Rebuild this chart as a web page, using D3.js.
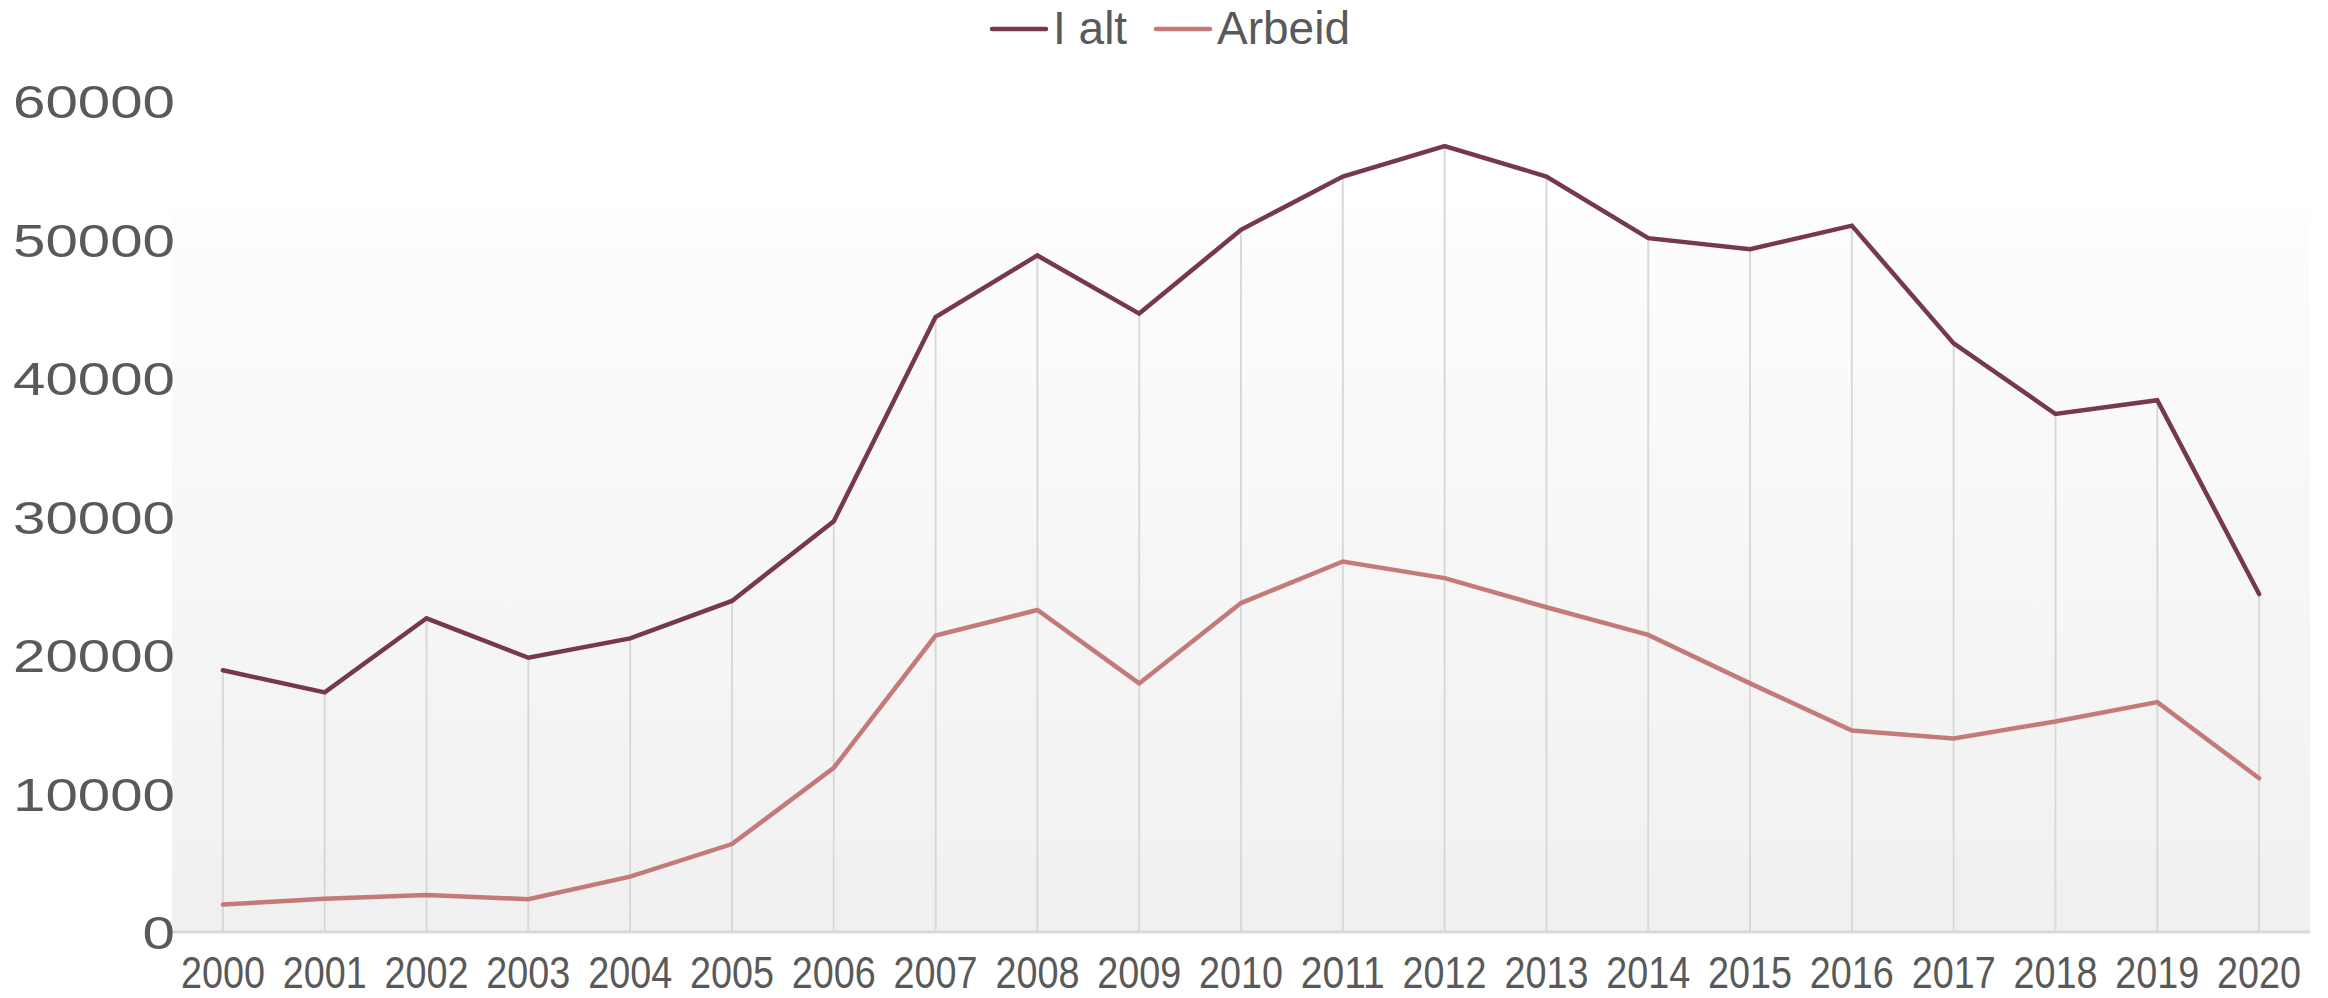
<!DOCTYPE html>
<html>
<head>
<meta charset="utf-8">
<script src="https://cdn.jsdelivr.net/npm/d3@7"></script>
<style>
  html, body { margin: 0; padding: 0; background: #ffffff; }
  svg { display: block; }
</style>
</head>
<body>
<svg id="chart" width="2328" height="998"></svg>
<script>
// ---- Data ----
const years = ["2000","2001","2002","2003","2004","2005","2006","2007","2008","2009","2010",
               "2011","2012","2013","2014","2015","2016","2017","2018","2019","2020"];
const iAlt = [18900, 17300, 22650, 19800, 21200, 23900, 29650, 44400, 48850, 44650, 50700,
              54550, 56750, 54550, 50100, 49300, 51000, 42500, 37400, 38400, 24400];
const arbeid = [1980, 2400, 2680, 2370, 4000, 6350, 11850, 21400, 23250, 17950, 23750,
                26750, 25550, 23450, 21450, 17950, 14550, 13980, 15200, 16600, 11100];
const yTicks = [0, 10000, 20000, 30000, 40000, 50000, 60000];
const seriesNames = ["I alt", "Arbeid"];
const seriesColors = ["#76394b", "#c47a79"];

// ---- Layout ----
const svg = d3.select("#chart");
const plotLeft = 172, plotRight = 2310, plotBottom = 932, plotTopVal = 101;

const x = d3.scaleBand().domain(years).range([plotLeft, plotRight]).padding(0);
const cx = d => x(d) + x.bandwidth() / 2;
const y = d3.scaleLinear().domain([0, 60000]).range([plotBottom, plotTopVal]);

// background gradient
const defs = svg.append("defs");
const grad = defs.append("linearGradient").attr("id", "bg")
  .attr("x1", 0).attr("y1", 0).attr("x2", 0).attr("y2", 1);
grad.append("stop").attr("offset", "0%").attr("stop-color", "#fdfdfd");
grad.append("stop").attr("offset", "100%").attr("stop-color", "#f0f0f0");

svg.append("rect")
  .attr("x", plotLeft).attr("y", 210)
  .attr("width", plotRight - plotLeft).attr("height", plotBottom - 210)
  .attr("fill", "url(#bg)");

// drop lines
svg.append("g").selectAll("line").data(years).join("line")
  .attr("x1", d => cx(d)).attr("x2", d => cx(d))
  .attr("y1", y(0))
  .attr("y2", (d, i) => y(Math.max(iAlt[i], arbeid[i])))
  .attr("stroke", "#d9d9d9").attr("stroke-width", 2);

// baseline
svg.append("line")
  .attr("x1", plotLeft).attr("x2", plotRight)
  .attr("y1", y(0)).attr("y2", y(0))
  .attr("stroke", "#d9d9d9").attr("stroke-width", 3);

// y axis labels
const yAxis = d3.axisLeft(y).tickValues(yTicks).tickSize(0).tickPadding(0)
  .tickFormat(d3.format("d"));
const yG = svg.append("g").attr("transform", "translate(175,0)").call(yAxis);
yG.select(".domain").remove();
yG.selectAll("text")
  .attr("font-family", "'Liberation Sans', Arial, sans-serif")
  .attr("font-size", 47)
  .attr("fill", "#595959")
  .attr("dy", "0.36em")
  .attr("textLength", d => String(d).length * 32.4)
  .attr("lengthAdjust", "spacingAndGlyphs");

// x axis labels
const xAxis = d3.axisBottom(x).tickSize(0).tickPadding(0);
const xG = svg.append("g").attr("transform", "translate(0,955)").call(xAxis);
xG.select(".domain").remove();
xG.selectAll("text")
  .attr("font-family", "'Liberation Sans', Arial, sans-serif")
  .attr("font-size", 45)
  .attr("fill", "#595959")
  .attr("dy", "0.73em")
  .attr("textLength", 84)
  .attr("lengthAdjust", "spacingAndGlyphs");

// lines
const line = d3.line().x((d, i) => cx(years[i])).y(d => y(d));
[iAlt, arbeid].forEach((vals, k) => {
  svg.append("path")
    .datum(vals)
    .attr("d", line)
    .attr("fill", "none")
    .attr("stroke", seriesColors[k])
    .attr("stroke-width", 4.5)
    .attr("stroke-linejoin", "miter")
    .attr("stroke-linecap", "round");
});

// legend
const legendItems = [
  { name: seriesNames[0], color: seriesColors[0], x: 992 },
  { name: seriesNames[1], color: seriesColors[1], x: 1156 }
];
const lg = svg.append("g");
legendItems.forEach(it => {
  lg.append("line")
    .attr("x1", it.x).attr("x2", it.x + 54)
    .attr("y1", 29).attr("y2", 29)
    .attr("stroke", it.color).attr("stroke-width", 4.5)
    .attr("stroke-linecap", "round");
  lg.append("text")
    .attr("x", it.x + 61).attr("y", 44)
    .attr("font-family", "'Liberation Sans', Arial, sans-serif")
    .attr("font-size", 46)
    .attr("fill", "#595959")
    .text(it.name);
});
</script>
</body>
</html>
